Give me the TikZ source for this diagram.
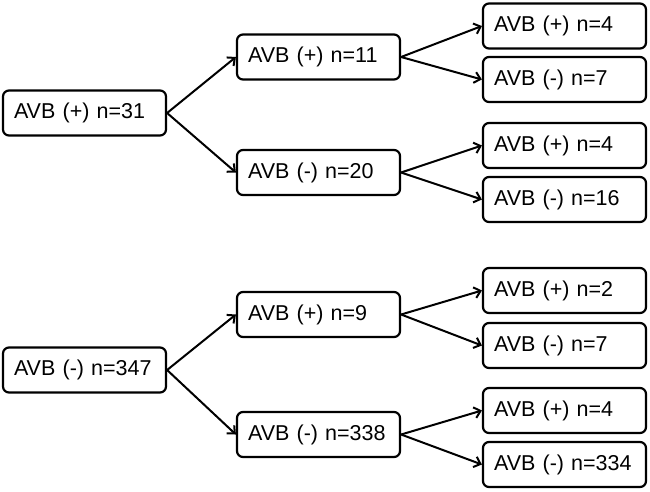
\documentclass[tikz,border=0pt]{standalone}
\usepackage{fontspec}
\setmainfont{Liberation Sans}
\usetikzlibrary{arrows.meta}
\begin{document}
\begin{tikzpicture}[x=1pt,y=-1pt,
  box/.style={draw,line width=2.2pt,rounded corners=6pt,minimum height=45pt,
    text width=141pt,inner xsep=11pt,inner ysep=0pt,align=left,
    font=\fontsize{21.5}{24}\selectfont},
  arr/.style={line width=2pt,-{Straight Barb[length=6pt,width=11pt,line width=2pt]}}]
\useasboundingbox (0,0) rectangle (650,491);
% top tree
\node[box] (r1) at (84.5,113) {AVB (+) n=31};
\node[box] (m1) at (318.5,57) {AVB (+) n=11};
\node[box] (m2) at (318.5,172.5) {AVB (-) n=20};
\node[box] (l1) at (564.5,26) {AVB (+) n=4};
\node[box] (l2) at (564.5,79.5) {AVB (-) n=7};
\node[box] (l3) at (564.5,145.5) {AVB (+) n=4};
\node[box] (l4) at (564.5,199.5) {AVB (-) n=16};
% bottom tree
\node[box] (r2) at (84.5,370) {AVB (-) n=347};
\node[box] (m3) at (318.5,314.5) {AVB (+) n=9};
\node[box] (m4) at (318.5,434.5) {AVB (-) n=338};
\node[box] (l5) at (564.5,290.5) {AVB (+) n=2};
\node[box] (l6) at (564.5,345.5) {AVB (-) n=7};
\node[box] (l7) at (564.5,410.5) {AVB (+) n=4};
\node[box] (l8) at (564.5,464.5) {AVB (-) n=334};
% arrows
\draw[arr] (r1.east) -- (m1.west);
\draw[arr] (r1.east) -- (m2.west);
\draw[arr] (m1.east) -- (l1.west);
\draw[arr] (m1.east) -- (l2.west);
\draw[arr] (m2.east) -- (l3.west);
\draw[arr] (m2.east) -- (l4.west);
\draw[arr] (r2.east) -- (m3.west);
\draw[arr] (r2.east) -- (m4.west);
\draw[arr] (m3.east) -- (l5.west);
\draw[arr] (m3.east) -- (l6.west);
\draw[arr] (m4.east) -- (l7.west);
\draw[arr] (m4.east) -- (l8.west);
\end{tikzpicture}
\end{document}
